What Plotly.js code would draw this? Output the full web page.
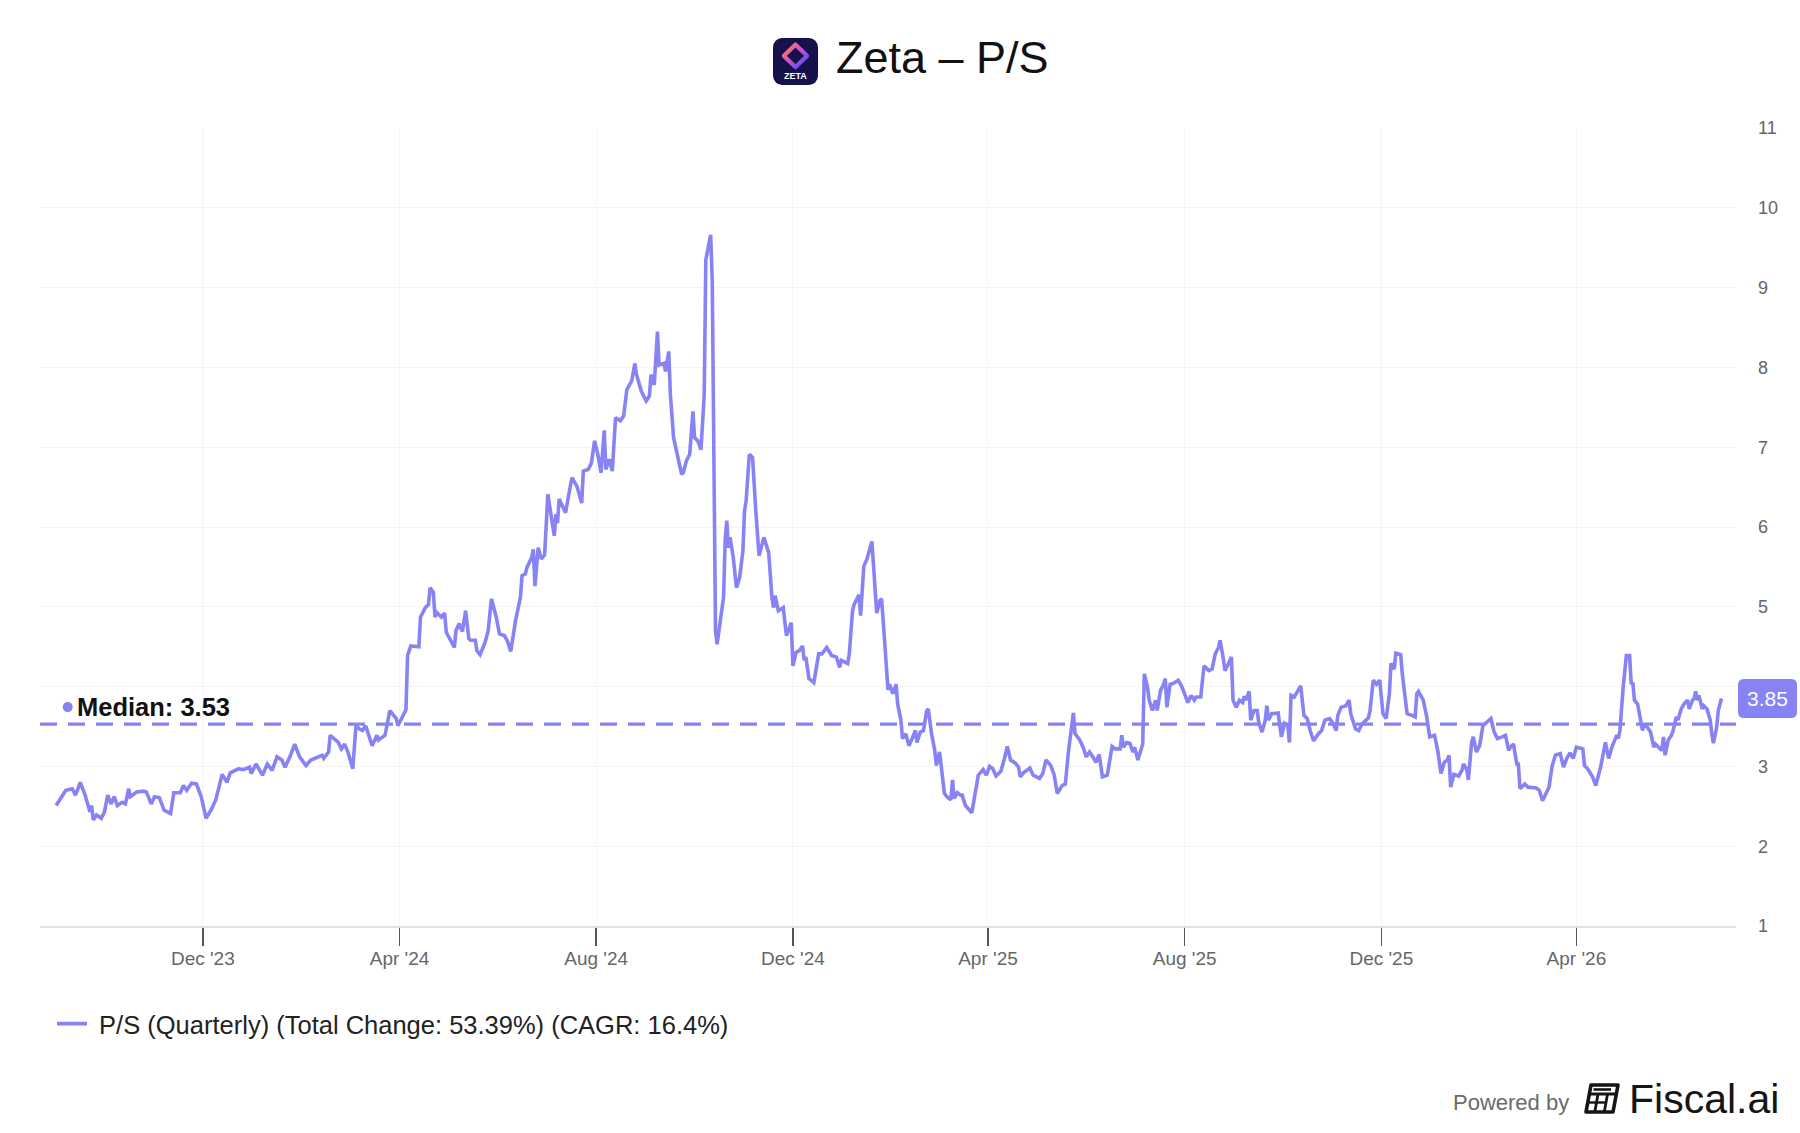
<!DOCTYPE html>
<html>
<head>
<meta charset="utf-8">
<script src="https://cdn.plot.ly/plotly-3.0.1.min.js"></script>
<style>html,body{margin:0;padding:0;background:#fff;}#chart{width:1800px;height:1133px;}</style>
</head>
<body>
<div id="chart"></div>
<script>
// ---- data (P/S ratio) ----
const dates2023 = ['2023-09-01','2023-09-03','2023-09-07','2023-09-11','2023-09-13','2023-09-16','2023-09-19','2023-09-22','2023-09-23','2023-09-24','2023-09-26','2023-09-29','2023-10-01','2023-10-03','2023-10-05','2023-10-07','2023-10-09','2023-10-12','2023-10-14','2023-10-16','2023-10-17','2023-10-21','2023-10-25','2023-10-27','2023-10-30','2023-11-01','2023-11-04','2023-11-07','2023-11-11','2023-11-13','2023-11-17','2023-11-19','2023-11-21','2023-11-24','2023-11-27','2023-11-30','2023-12-03','2023-12-06','2023-12-09','2023-12-13','2023-12-16','2023-12-18','2023-12-23','2023-12-26','2023-12-30','2023-12-31'];
const ps2023 = [2.51,2.58,2.70,2.72,2.64,2.80,2.64,2.43,2.51,2.33,2.39,2.35,2.43,2.64,2.53,2.62,2.51,2.55,2.53,2.72,2.62,2.68,2.69,2.68,2.53,2.62,2.61,2.45,2.41,2.67,2.67,2.76,2.70,2.79,2.78,2.62,2.35,2.45,2.58,2.90,2.80,2.92,2.97,2.96,2.99,2.91];

const dates2024 = ['2024-01-03','2024-01-07','2024-01-10','2024-01-13','2024-01-16','2024-01-19','2024-01-21','2024-01-24','2024-01-27','2024-01-30','2024-02-03','2024-02-06','2024-02-13','2024-02-14','2024-02-17','2024-02-18','2024-02-21','2024-02-23','2024-02-25','2024-02-27','2024-02-29','2024-03-03','2024-03-05','2024-03-07','2024-03-09','2024-03-11','2024-03-15','2024-03-18','2024-03-19','2024-03-23','2024-03-26','2024-03-30','2024-03-31','2024-04-03','2024-04-05','2024-04-06','2024-04-08','2024-04-13','2024-04-14','2024-04-17','2024-04-19','2024-04-20','2024-04-22','2024-04-23','2024-04-24','2024-04-27','2024-04-29','2024-04-30','2024-05-02','2024-05-05','2024-05-06','2024-05-08','2024-05-10','2024-05-12','2024-05-14','2024-05-15','2024-05-18','2024-05-19','2024-05-21','2024-05-24','2024-05-26','2024-05-28','2024-05-31','2024-06-02','2024-06-05','2024-06-07','2024-06-09','2024-06-12','2024-06-15','2024-06-16','2024-06-18','2024-06-19','2024-06-22','2024-06-23','2024-06-24','2024-06-26','2024-06-28','2024-06-30','2024-07-02','2024-07-04','2024-07-06','2024-07-07','2024-07-08','2024-07-09','2024-07-13','2024-07-15','2024-07-17','2024-07-20','2024-07-23','2024-07-24','2024-07-27','2024-07-29','2024-07-31','2024-08-02','2024-08-04','2024-08-06','2024-08-07','2024-08-09','2024-08-11','2024-08-13','2024-08-16','2024-08-18','2024-08-20','2024-08-23','2024-08-25','2024-08-26','2024-08-29','2024-09-01','2024-09-03','2024-09-04','2024-09-06','2024-09-08','2024-09-09','2024-09-12','2024-09-13','2024-09-15','2024-09-16','2024-09-18','2024-09-21','2024-09-23','2024-09-24','2024-09-26','2024-09-28','2024-09-30','2024-10-01','2024-10-03','2024-10-05','2024-10-07','2024-10-08','2024-10-10','2024-10-11','2024-10-12','2024-10-13','2024-10-14','2024-10-15','2024-10-16','2024-10-19','2024-10-20','2024-10-21','2024-10-22','2024-10-23','2024-10-25','2024-10-27','2024-10-29','2024-10-31','2024-11-01','2024-11-02','2024-11-04','2024-11-06','2024-11-08','2024-11-10','2024-11-13','2024-11-16','2024-11-18','2024-11-19','2024-11-20','2024-11-22','2024-11-25','2024-11-27','2024-11-30','2024-12-01','2024-12-03','2024-12-05','2024-12-07','2024-12-08','2024-12-09','2024-12-11','2024-12-14','2024-12-17','2024-12-19','2024-12-22','2024-12-25','2024-12-28','2024-12-30','2024-12-31'];
const ps2024 = [3.03,2.89,3.03,2.95,3.12,3.08,2.99,3.12,3.28,3.12,3.01,3.08,3.14,3.10,3.18,3.39,3.33,3.30,3.22,3.28,3.18,2.97,3.51,3.47,3.45,3.51,3.26,3.39,3.33,3.39,3.70,3.60,3.51,3.64,3.71,4.39,4.51,4.50,4.87,4.99,5.03,5.24,5.18,4.87,4.93,4.87,4.92,4.68,4.60,4.49,4.70,4.79,4.69,4.95,4.60,4.58,4.58,4.45,4.40,4.55,4.70,5.10,4.87,4.66,4.64,4.57,4.44,4.83,5.12,5.39,5.41,5.49,5.62,5.72,5.26,5.74,5.60,5.65,6.41,6.12,5.89,6.16,6.05,6.35,6.18,6.41,6.62,6.51,6.30,6.70,6.72,6.80,7.08,6.91,6.68,7.21,6.72,6.85,6.70,7.37,7.33,7.39,7.72,7.83,8.05,7.91,7.70,7.58,7.64,7.91,7.78,8.45,8.03,8.05,7.95,8.20,7.66,7.12,6.87,6.66,6.68,6.83,6.91,7.45,7.12,7.08,6.97,7.66,9.35,9.53,9.66,9.08,6.91,4.70,4.53,4.66,5.12,5.83,6.08,5.74,5.87,5.62,5.24,5.37,5.70,6.20,6.33,6.91,6.87,6.20,5.64,5.87,5.68,5.12,4.99,5.14,4.95,4.99,4.64,4.80,4.26,4.43,4.45,4.51,4.33,4.37,4.10,4.05,4.41,4.41,4.49,4.39,4.37,4.24,4.33];

const dates2025 = ['2025-01-04','2025-01-05','2025-01-07','2025-01-08','2025-01-11','2025-01-12','2025-01-14','2025-01-16','2025-01-19','2025-01-21','2025-01-22','2025-01-24','2025-01-25','2025-01-26','2025-01-28','2025-01-29','2025-01-30','2025-02-01','2025-02-03','2025-02-04','2025-02-06','2025-02-07','2025-02-09','2025-02-11','2025-02-13','2025-02-15','2025-02-16','2025-02-18','2025-02-20','2025-02-22','2025-02-23','2025-02-25','2025-02-27','2025-02-28','2025-03-02','2025-03-03','2025-03-05','2025-03-07','2025-03-09','2025-03-10','2025-03-11','2025-03-13','2025-03-15','2025-03-16','2025-03-18','2025-03-22','2025-03-25','2025-03-26','2025-03-29','2025-03-31','2025-04-02','2025-04-04','2025-04-06','2025-04-09','2025-04-11','2025-04-13','2025-04-15','2025-04-18','2025-04-20','2025-04-21','2025-04-23','2025-04-27','2025-04-29','2025-05-03','2025-05-05','2025-05-07','2025-05-10','2025-05-12','2025-05-14','2025-05-17','2025-05-19','2025-05-21','2025-05-24','2025-05-25','2025-05-28','2025-05-30','2025-06-01','2025-06-03','2025-06-05','2025-06-07','2025-06-09','2025-06-11','2025-06-14','2025-06-17','2025-06-19','2025-06-22','2025-06-23','2025-06-24','2025-06-26','2025-06-28','2025-06-30','2025-07-01','2025-07-03','2025-07-05','2025-07-06','2025-07-07','2025-07-09','2025-07-10','2025-07-12','2025-07-14','2025-07-15','2025-07-17','2025-07-19','2025-07-20','2025-07-21','2025-07-23','2025-07-25','2025-07-28','2025-07-30','2025-08-01','2025-08-03','2025-08-05','2025-08-07','2025-08-08','2025-08-11','2025-08-13','2025-08-16','2025-08-18','2025-08-20','2025-08-22','2025-08-23','2025-08-25','2025-08-26','2025-08-28','2025-08-30','2025-08-31','2025-09-02','2025-09-04','2025-09-06','2025-09-07','2025-09-08','2025-09-10','2025-09-11','2025-09-13','2025-09-15','2025-09-16','2025-09-18','2025-09-20','2025-09-21','2025-09-22','2025-09-24','2025-09-28','2025-09-29','2025-09-30','2025-10-02','2025-10-04','2025-10-05','2025-10-06','2025-10-08','2025-10-10','2025-10-12','2025-10-14','2025-10-16','2025-10-18','2025-10-20','2025-10-23','2025-10-25','2025-10-27','2025-10-30','2025-11-01','2025-11-03','2025-11-04','2025-11-06','2025-11-09','2025-11-11','2025-11-12','2025-11-15','2025-11-17','2025-11-19','2025-11-23','2025-11-24','2025-11-26','2025-11-28','2025-11-30','2025-12-02','2025-12-04','2025-12-06','2025-12-07','2025-12-09','2025-12-10','2025-12-13','2025-12-14','2025-12-17','2025-12-20','2025-12-22','2025-12-23','2025-12-24','2025-12-27','2025-12-29','2025-12-31'];
const ps2025 = [4.29,4.41,4.95,5.03,5.15,4.89,5.51,5.60,5.82,5.28,4.92,5.08,5.10,4.83,4.16,3.96,4.03,3.91,4.03,3.78,3.58,3.35,3.41,3.26,3.35,3.45,3.30,3.43,3.45,3.70,3.72,3.41,3.20,3.01,3.18,2.99,2.66,2.61,2.58,2.83,2.60,2.67,2.64,2.64,2.51,2.42,2.78,2.89,2.96,2.89,3.00,2.97,2.88,2.94,3.08,3.25,3.08,3.04,2.99,2.87,2.92,2.98,2.89,2.85,2.91,3.08,3.01,2.90,2.66,2.76,2.78,3.20,3.67,3.41,3.33,3.24,3.12,3.18,3.12,3.05,3.15,2.87,2.89,3.25,3.22,3.22,3.39,3.24,3.30,3.29,3.18,3.24,3.08,3.21,3.28,4.16,3.99,3.83,3.70,3.83,3.70,3.95,4.03,4.10,3.74,4.03,4.04,4.08,4.01,3.91,3.80,3.89,3.83,3.87,3.87,4.26,4.20,4.22,4.41,4.49,4.58,4.35,4.20,4.28,4.37,3.83,3.74,3.83,3.80,3.88,3.83,3.94,3.58,3.70,3.70,3.55,3.43,3.58,3.76,3.58,3.66,3.67,3.51,3.37,3.54,3.51,3.30,3.89,3.87,3.93,4.01,3.64,3.60,3.44,3.32,3.41,3.45,3.58,3.60,3.54,3.45,3.64,3.74,3.76,3.83,3.66,3.47,3.45,3.53,3.61,3.70,4.08,4.03,4.08,3.66,3.60,3.91,4.29,4.22,4.42,4.40,4.16,3.66,3.64,3.62,3.91,3.94,3.83,3.64,3.37];

const dates2026 = ['2026-01-03','2026-01-05','2026-01-07','2026-01-09','2026-01-11','2026-01-12','2026-01-13','2026-01-15','2026-01-18','2026-01-20','2026-01-21','2026-01-23','2026-01-24','2026-01-26','2026-01-27','2026-01-29','2026-01-31','2026-02-02','2026-02-04','2026-02-07','2026-02-09','2026-02-11','2026-02-14','2026-02-16','2026-02-18','2026-02-19','2026-02-21','2026-02-23','2026-02-24','2026-02-25','2026-02-28','2026-03-02','2026-03-07','2026-03-09','2026-03-11','2026-03-15','2026-03-17','2026-03-19','2026-03-22','2026-03-24','2026-03-26','2026-03-28','2026-03-30','2026-04-01','2026-04-05','2026-04-06','2026-04-08','2026-04-11','2026-04-13','2026-04-16','2026-04-19','2026-04-20','2026-04-21','2026-04-23','2026-04-25','2026-04-26','2026-04-27','2026-04-28','2026-04-30','2026-05-01','2026-05-02','2026-05-04','2026-05-05','2026-05-06','2026-05-07','2026-05-09','2026-05-11','2026-05-12','2026-05-13','2026-05-15','2026-05-17','2026-05-19','2026-05-20','2026-05-22','2026-05-24','2026-05-25','2026-05-26','2026-05-28','2026-05-30','2026-05-31','2026-06-02','2026-06-03','2026-06-05','2026-06-07','2026-06-09','2026-06-10','2026-06-12','2026-06-13','2026-06-14','2026-06-15','2026-06-16','2026-06-18','2026-06-19','2026-06-21','2026-06-23','2026-06-24','2026-06-25','2026-06-27','2026-06-28','2026-06-30'];
const ps2026 = [3.39,3.20,2.91,3.05,3.08,3.14,2.74,2.90,2.88,2.95,3.03,2.96,2.83,3.30,3.37,3.18,3.26,3.51,3.55,3.60,3.43,3.35,3.37,3.39,3.20,3.24,3.28,3.03,3.03,2.72,2.78,2.74,2.73,2.70,2.57,2.74,3.01,3.14,3.16,2.99,3.10,3.17,3.10,3.24,3.22,3.01,2.97,2.87,2.76,2.99,3.30,3.20,3.10,3.24,3.33,3.39,3.35,3.45,3.99,4.16,4.39,4.39,4.03,4.05,3.83,3.78,3.58,3.45,3.53,3.49,3.43,3.24,3.28,3.24,3.20,3.37,3.14,3.33,3.39,3.45,3.62,3.58,3.72,3.79,3.83,3.72,3.83,3.85,3.94,3.83,3.89,3.72,3.76,3.72,3.58,3.41,3.29,3.49,3.70,3.85];

const medianValue = 3.53;
const seriesName = '\u00a0P/S (Quarterly) (Total Change: 53.39%) (CAGR: 16.4%)';
const chartTitle = 'Zeta \u2013 P/S';
const yTickVals = [1,2,3,4,5,6,7,8,9,10,11];
// the "4" label sits under the last-value badge in the reference
const yTickText = ['1','2','3','','5','6','7','8','9','10','11'];

// ---- build ----
const dates = [].concat(dates2023, dates2024, dates2025, dates2026);
const psValues = [].concat(ps2023, ps2024, ps2025, ps2026);
const lastValue = psValues[psValues.length - 1];

const LINE = '#8883f4';
const FONT = 'Liberation Sans, Arial, Helvetica, sans-serif';

const zetaLogo = 'data:image/svg+xml;charset=utf-8,' + encodeURIComponent(
  "<svg xmlns='http://www.w3.org/2000/svg' viewBox='0 0 100 100'>" +
  "<defs><linearGradient id='g' x1='0' y1='0' x2='1' y2='1'>" +
  "<stop offset='0' stop-color='#ff8a3d'/><stop offset='0.45' stop-color='#d44fd0'/><stop offset='1' stop-color='#3d4ff0'/></linearGradient></defs>" +
  "<rect width='100' height='100' rx='20' fill='#15114a'/>" +
  "<path d='M50 14 L76 38 L50 62 L24 38 Z' fill='none' stroke='url(#g)' stroke-width='9' stroke-linejoin='round'/>" +
  "<path d='M38 38 L50 27 L62 38' fill='none' stroke='#15114a' stroke-width='5'/>" +
  "</svg>");

const fiscalIcon = 'data:image/svg+xml;charset=utf-8,' + encodeURIComponent(
  "<svg xmlns='http://www.w3.org/2000/svg' viewBox='0 0 36 31'>" +
  "<path d='M7 2 L34 2 L29 29 L2 29 Z' fill='none' stroke='#151515' stroke-width='3.6' stroke-linejoin='round'/>" +
  "<path d='M5.4 11 L32.4 11' stroke='#151515' stroke-width='3'/>" +
  "<path d='M9.5 6.5 L27 6.5' stroke='#151515' stroke-width='2.6'/>" +
  "<path d='M14 11 L10.8 29 M23.5 11 L20.3 29' stroke='#151515' stroke-width='2.8'/>" +
  "<path d='M4 19.5 L22 19.5' stroke='#151515' stroke-width='2.4'/>" +
  "</svg>");

const trace = {
  type: 'scatter',
  mode: 'lines',
  x: dates,
  y: psValues,
  name: seriesName,
  line: {color: LINE, width: 3.6},
  hoverinfo: 'x+y'
};

// pixel -> paper helpers for decorations (plot area 40..1736 x 128..926)
const PL = 40, PW = 1696, PB = 926, PT = 128, PH = PB - PT;
const px = v => (v - PL) / PW;
const py = v => (PB - v) / PH;

const layout = {
  width: 1800,
  height: 1133,
  margin: {l: PL, r: 1800 - PL - PW, t: PT, b: 1133 - PB, pad: 0},
  paper_bgcolor: '#ffffff',
  plot_bgcolor: '#ffffff',
  font: {family: FONT, color: '#222'},
  showlegend: true,
  legend: {
    orientation: 'h', x: px(52), xanchor: 'left', y: py(1024), yanchor: 'middle',
    font: {size: 25.5, color: '#222', family: FONT}, bgcolor: 'rgba(0,0,0,0)'
  },
  xaxis: {
    type: 'date',
    range: ['2023-08-22', '2026-07-09'],
    tick0: '2023-12-01',
    dtick: 'M4',
    tickformat: "%b '%y",
    ticks: 'outside', ticklen: 18, tickwidth: 1.5, tickcolor: '#555',
    ticklabelstandoff: -4,
    tickfont: {size: 19, color: '#666', family: FONT},
    showgrid: true, gridcolor: '#f4f4f4', gridwidth: 1,
    showline: true, linecolor: '#e3e3e3', linewidth: 2,
    zeroline: false, fixedrange: true
  },
  yaxis: {
    side: 'right',
    range: [1, 11],
    tickvals: yTickVals,
    ticktext: yTickText,
    ticks: '', ticklabelstandoff: 21,
    tickfont: {size: 18, color: '#666', family: FONT},
    showgrid: true, gridcolor: '#f4f4f4', gridwidth: 1,
    showline: false, zeroline: false, fixedrange: true
  },
  shapes: [
    {type: 'line', xref: 'paper', x0: 0, x1: 1, yref: 'y', y0: medianValue, y1: medianValue,
     line: {color: LINE, width: 3.2, dash: '17px,11px'}, layer: 'above'},
    {type: 'circle', xref: 'paper', xsizemode: 'pixel', xanchor: px(67.7), x0: -5, x1: 5,
     yref: 'y', ysizemode: 'pixel', yanchor: medianValue, y0: 12, y1: 22,
     fillcolor: LINE, line: {width: 0}, layer: 'above'},
    {type: 'path', xref: 'paper', xsizemode: 'pixel', xanchor: 1,
     yref: 'y', ysizemode: 'pixel', yanchor: lastValue,
     path: 'M 8 -19.5 L 55 -19.5 Q 61 -19.5 61 -13.5 L 61 13.5 Q 61 19.5 55 19.5 L 8 19.5 Q 2 19.5 2 13.5 L 2 -13.5 Q 2 -19.5 8 -19.5 Z',
     fillcolor: LINE, line: {width: 0}, layer: 'above'}
  ],
  images: [
    {source: zetaLogo, xref: 'paper', yref: 'paper', x: px(773), y: py(38),
     sizex: 45 / PW, sizey: 47 / PH, xanchor: 'left', yanchor: 'top', sizing: 'stretch', layer: 'above'},
    {source: fiscalIcon, xref: 'paper', yref: 'paper', x: px(1584), y: py(1083),
     sizex: 36 / PW, sizey: 31 / PH, xanchor: 'left', yanchor: 'top', sizing: 'stretch', layer: 'above'}
  ],
  annotations: [
    {text: chartTitle, xref: 'paper', yref: 'paper', x: px(834), y: py(58), xanchor: 'left', yanchor: 'middle',
     showarrow: false, font: {size: 45, color: '#111', family: FONT}},
    {text: '<b>ZETA</b>', xref: 'paper', yref: 'paper', x: px(795.5), y: py(76), xanchor: 'center', yanchor: 'middle',
     showarrow: false, font: {size: 9, color: '#ffffff', family: FONT}},
    {text: '<b>Median: 3.53</b>', xref: 'paper', x: px(74.5), xanchor: 'left', yref: 'y', y: medianValue, yshift: 17,
     yanchor: 'middle', showarrow: false, font: {size: 25.5, color: '#111', family: FONT}},
    {text: String(lastValue.toFixed(2)), xref: 'paper', x: 1, xshift: 31.5, xanchor: 'center', yref: 'y', y: lastValue,
     yanchor: 'middle', showarrow: false, font: {size: 21, color: '#ffffff', family: FONT}},
    {text: 'Powered by', xref: 'paper', yref: 'paper', x: px(1571), y: py(1102), xanchor: 'right', yanchor: 'middle',
     showarrow: false, font: {size: 22, color: '#6b6b6b', family: FONT}},
    {text: 'Fiscal.ai', xref: 'paper', yref: 'paper', x: px(1627), y: py(1099), xanchor: 'left', yanchor: 'middle',
     showarrow: false, font: {size: 41, color: '#151515', family: FONT}}
  ]
};

Plotly.newPlot('chart', [trace], layout, {displayModeBar: false, staticPlot: true});
</script>
</body>
</html>
